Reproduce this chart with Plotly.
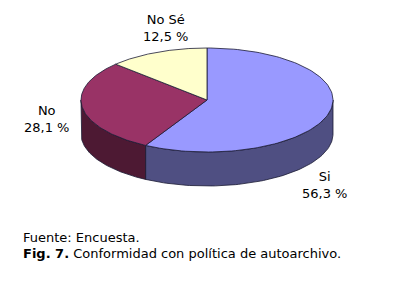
import numpy as np
import plotly.graph_objects as go

# ---- data ----
categories = ["Si", "No", "No Sé"]
values = [56.3, 28.1, 12.5]
label_text = ["Si<br>56,3 %", "No<br>28,1 %", "No Sé<br>12,5 %"]
source_text = "Fuente: Encuesta."
caption_text = "<b>Fig. 7.</b> Conformidad con política de autoarchivo."

# ---- style / geometry ----
top_colors = ["#9999FF", "#993366", "#FFFFCC"]
side_colors = ["#4F4F82", "#4D1933", "#80806A"]
W, H = 411, 283
cx, cy, a, b, depth = 207, 100, 126, 52, 34
label_pos = [(324, 185), (46, 119), (165, 28)]

total = sum(values)
fracs = [v / total for v in values]
starts = np.cumsum([0] + fracs[:-1]) * 360.0
ends = np.cumsum(fracs) * 360.0


def pt(theta_deg, dy=0.0):
    t = np.radians(theta_deg)
    return cx + a * np.sin(t), cy - b * np.cos(t) + dy


fig = go.Figure()
line = dict(color="#1a1a33", width=0.8)

# side walls (front half: 90..270 deg clockwise from top)
for i in range(len(values)):
    s, e = max(starts[i], 90), min(ends[i], 270)
    if e <= s:
        continue
    th = np.linspace(s, e, 80)
    xt, yt = pt(th)
    xb, yb = pt(th[::-1], depth)
    xs = np.concatenate([xt, xb, xt[:1]])
    ys = np.concatenate([yt, yb, yt[:1]])
    fig.add_trace(go.Scatter(x=xs, y=ys, mode="lines", fill="toself",
                             fillcolor=side_colors[i], line=line,
                             hoverinfo="skip", showlegend=False))

# top faces
for i in range(len(values)):
    th = np.linspace(starts[i], ends[i], 120)
    xt, yt = pt(th)
    xs = np.concatenate([[cx], xt, [cx]])
    ys = np.concatenate([[cy], yt, [cy]])
    fig.add_trace(go.Scatter(x=xs, y=ys, mode="lines", fill="toself",
                             fillcolor=top_colors[i], line=line,
                             name=categories[i], hoverinfo="name",
                             showlegend=False))

font = dict(family="DejaVu Sans, Verdana, sans-serif", size=13, color="#000000")
for txt, (x, y) in zip(label_text, label_pos):
    fig.add_annotation(x=x, y=y, text=txt, showarrow=False, font=font,
                       xanchor="center", yanchor="middle", align="center")

fig.add_annotation(x=21, y=237, text=source_text, showarrow=False, font=font,
                   xanchor="left", yanchor="middle", align="left")
fig.add_annotation(x=21, y=253, text=caption_text, showarrow=False, font=font,
                   xanchor="left", yanchor="middle", align="left")

fig.update_layout(
    width=W, height=H, margin=dict(l=0, r=0, t=0, b=0),
    paper_bgcolor="white", plot_bgcolor="white",
    xaxis=dict(range=[0, W], visible=False, fixedrange=True),
    yaxis=dict(range=[H, 0], visible=False, fixedrange=True),
)
fig.write_html("out.html")
